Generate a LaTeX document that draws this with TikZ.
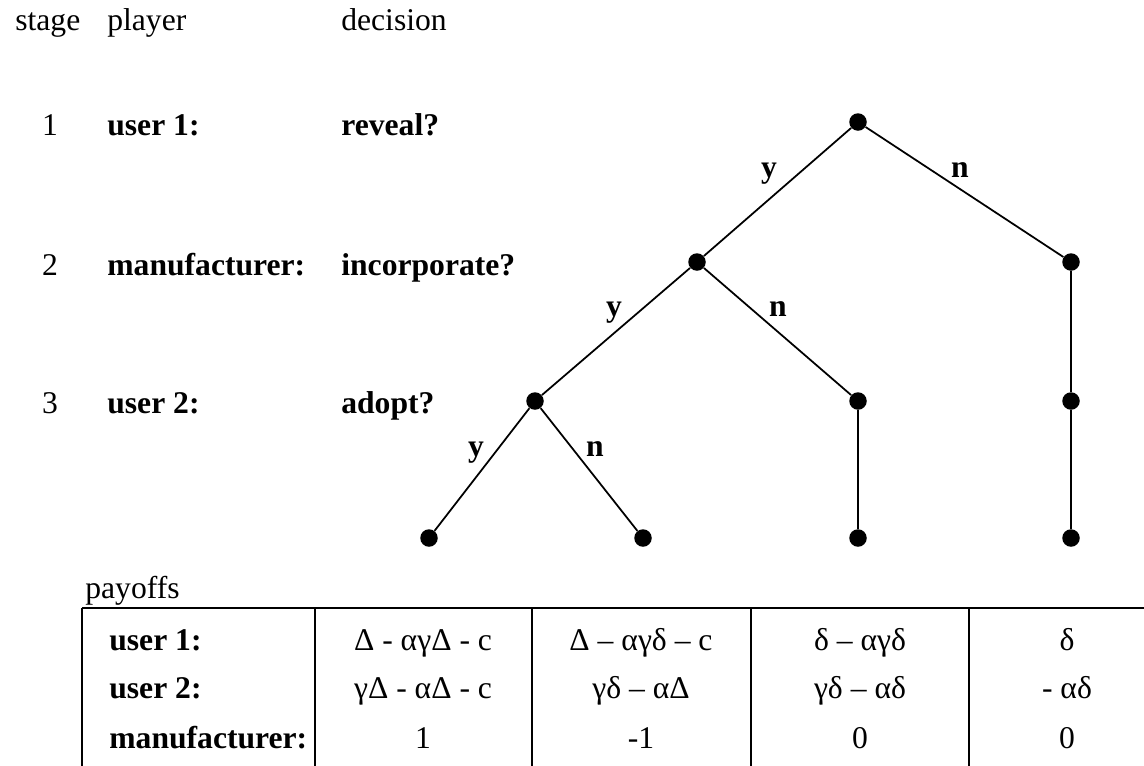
\documentclass[tikz,border=0pt]{standalone}
\usepackage{fontspec}
\setmainfont{Liberation Serif}
\begin{document}
\begin{tikzpicture}[x=0.02cm,y=-0.02cm,
  every node/.style={font=\fontsize{18}{21.6}\selectfont,inner sep=0pt},
  txt/.style={anchor=base west},
  who/.style={anchor=base west,font=\fontsize{18}{21.6}\selectfont\bfseries},
  choice/.style={anchor=base,font=\fontsize{18}{21.6}\selectfont\bfseries},
  cell/.style={anchor=base},
  dot/.style={circle,fill,minimum size=0.35cm},
  edge/.style={line width=1pt},
  rule/.style={line width=1.1pt}]
  \useasboundingbox (0,0) rectangle (1144,765);
  \clip (0,0) rectangle (1144,765);

  % headings
  \node[txt] (stage) at (15,30) {stage};
  \node[txt] (player) at (107,30) {player};
  \node[txt] (decision) at (341,30) {decision};

  % stages, players, decisions
  \node[cell] (s1) at (50,135) {1};
  \node[who] (p1) at (107,135) {user 1:};
  \node[who] (d1) at (341,135) {reveal?};
  \node[cell] (s2) at (50,275) {2};
  \node[who] (p2) at (107,275) {manufacturer:};
  \node[who] (d2) at (341,275) {incorporate?};
  \node[cell] (s3) at (50,413) {3};
  \node[who] (p3) at (107,413) {user 2:};
  \node[who] (d3) at (341,413) {adopt?};

  % game tree
  \node[dot] (root) at (858,122) {};
  \node[dot] (m1) at (697,262) {};
  \node[dot] (m2) at (1071,262) {};
  \node[dot] (u1) at (535,401) {};
  \node[dot] (u2) at (858,401) {};
  \node[dot] (u3) at (1071,401) {};
  \node[dot] (t1) at (429,538) {};
  \node[dot] (t2) at (643,538) {};
  \node[dot] (t3) at (858,538) {};
  \node[dot] (t4) at (1071,538) {};
  \draw[edge] (root) -- (m1);
  \draw[edge] (root) -- (m2);
  \draw[edge] (m1) -- (u1);
  \draw[edge] (m1) -- (u2);
  \draw[edge] (m2) -- (u3);
  \draw[edge] (u1) -- (t1);
  \draw[edge] (u1) -- (t2);
  \draw[edge] (u2) -- (t3);
  \draw[edge] (u3) -- (t4);
  \node[choice] (y1) at (769,177) {y};
  \node[choice] (n1) at (960,177) {n};
  \node[choice] (y2) at (614,316) {y};
  \node[choice] (n2) at (778,316) {n};
  \node[choice] (y3) at (476,456) {y};
  \node[choice] (n3) at (595,456) {n};

  % payoff table
  \node[txt] (payoffs) at (85,598) {payoffs};
  \draw[rule] (82,608) -- (1170,608);
  \draw[rule] (82,608) -- (82,780);
  \draw[rule] (315,608) -- (315,780);
  \draw[rule] (532,608) -- (532,780);
  \draw[rule] (751,608) -- (751,780);
  \draw[rule] (969,608) -- (969,780);
  \node[who] (r1) at (109,650) {user 1:};
  \node[who] (r2) at (109,698) {user 2:};
  \node[who] (r3) at (109,748) {manufacturer:};
  \node[cell] (a1) at (423,650) {Δ - αγΔ - c};
  \node[cell] (a2) at (423,698) {γΔ - αΔ - c};
  \node[cell] (a3) at (423,748) {1};
  \node[cell] (b1) at (641,650) {Δ – αγδ – c};
  \node[cell] (b2) at (641,698) {γδ – αΔ};
  \node[cell] (b3) at (641,748) {-1};
  \node[cell] (c1) at (860,650) {δ – αγδ};
  \node[cell] (c2) at (860,698) {γδ – αδ};
  \node[cell] (c3) at (860,748) {0};
  \node[cell] (e1) at (1067,650) {δ};
  \node[cell] (e2) at (1067,698) {- αδ};
  \node[cell] (e3) at (1067,748) {0};
\end{tikzpicture}
\end{document}
